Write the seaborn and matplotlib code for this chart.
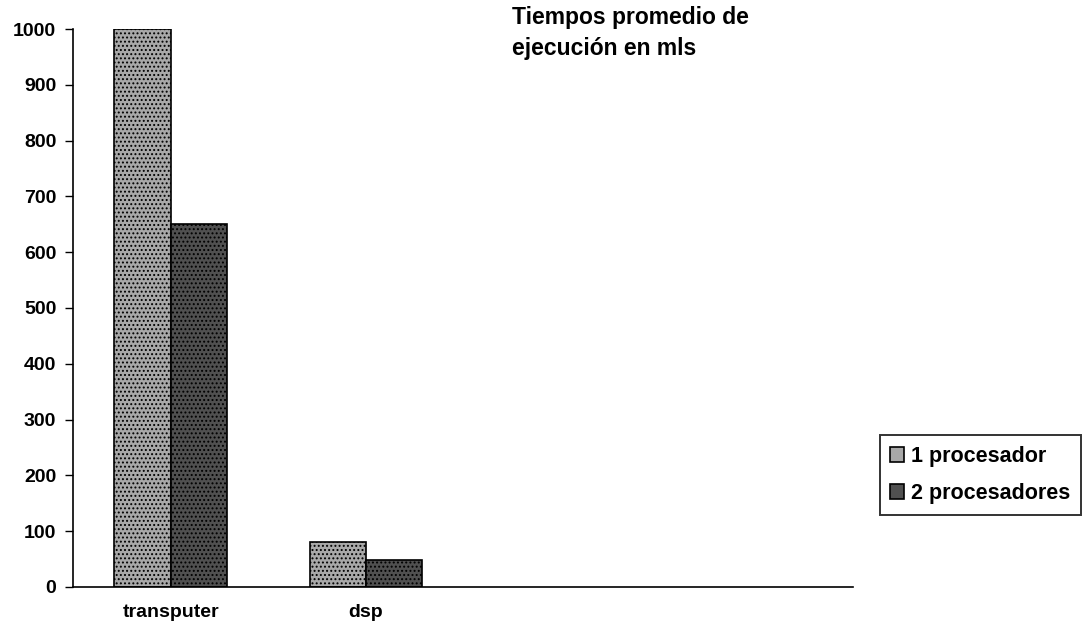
import matplotlib
matplotlib.use("Agg")
import matplotlib.pyplot as plt
import seaborn as sns
import pandas as pd

categories = ["transputer", "dsp"]
series_names = ["1 procesador", "2 procesadores"]
values_1 = [1000, 80]
values_2 = [650, 48]
y_ticks = [0, 100, 200, 300, 400, 500, 600, 700, 800, 900, 1000]

sns.set_style("white")
plt.rcParams['font.family'] = ['Liberation Sans', 'DejaVu Sans']
plt.rcParams['font.weight'] = 'bold'
plt.rcParams['hatch.linewidth'] = 0.9
plt.rcParams['text.color'] = 'black'
plt.rcParams['xtick.color'] = 'black'
plt.rcParams['ytick.color'] = 'black'
plt.rcParams['axes.labelcolor'] = 'black'

df = pd.DataFrame({
    "cat": categories * 2,
    "serie": [series_names[0]] * 2 + [series_names[1]] * 2,
    "val": values_1 + values_2,
})

fig = plt.figure(figsize=(10.9, 6.38), dpi=100)
ax = fig.add_axes([0.067, 0.080, 0.716, 0.8745])
colors = ["#a8a8a8", "#505050"]
sns.barplot(data=df, x="cat", y="val", hue="serie", order=categories,
            hue_order=series_names, palette=colors, width=0.575, gap=0,
            edgecolor="black", linewidth=1.2, ax=ax, legend=True)

for i, cont in enumerate(ax.containers):
    for p in cont:
        p.set_hatch("....")
        p.set_edgecolor("black")

ax.set_xlim(-0.5, 3.5)
ax.set_ylim(0, 1000)
ax.set_yticks(y_ticks)
ax.set_yticklabels([str(t) for t in y_ticks], fontsize=14, fontweight='bold', color='black')
ax.set_xticks([0, 1])
ax.set_xticklabels(categories, fontsize=14, fontweight='bold', color='black')
ax.tick_params(axis='x', which='major', length=0, pad=12)
ax.set_xticks([-0.5, 0.5, 1.5, 2.5, 3.5], minor=True)
ax.tick_params(axis='x', which='minor', length=6, width=1, direction='out', color='black')
ax.tick_params(axis='y', length=6, width=1, direction='out', color='black', left=True, pad=6)
ax.set_xlabel("")
ax.set_ylabel("")
for s in ["top", "right"]:
    ax.spines[s].set_visible(False)
for s in ["left", "bottom"]:
    ax.spines[s].set_color("black")
    ax.spines[s].set_linewidth(1.2)

leg = ax.legend(loc="upper left", bbox_to_anchor=(0.807, 0.318), bbox_transform=fig.transFigure,
                frameon=True, fancybox=False, edgecolor="black",
                handlelength=0.65, handleheight=0.65, handletextpad=0.3, borderpad=0.5,
                borderaxespad=0, labelspacing=0.75, prop={'weight': 'bold', 'size': 15.5})
leg.get_frame().set_linewidth(1.4)
for t in leg.get_texts():
    t.set_color('black')

fig.text(0.470, 0.99, "Tiempos promedio de\nejecución en mls", fontsize=16.5,
         fontweight='bold', va='top', ha='left', linespacing=1.45, color='black')

fig.savefig("out.png", dpi=100)
